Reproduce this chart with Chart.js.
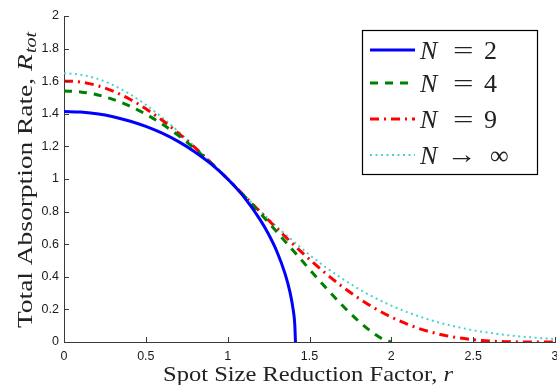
<!DOCTYPE html>
<html lang="en">
<head>
<meta charset="UTF-8">
<title>Total Absorption Rate vs Spot Size Reduction Factor</title>
<script src="https://cdn.jsdelivr.net/npm/chart.js"></script>
<style>
  body { margin: 0; background: #fff; }
  canvas { display: block; }
</style>
</head>
<body>
<canvas id="myChart" width="557" height="385"></canvas>
<script>
// values
const rN2 = [0, 0.1, 0.2, 0.3, 0.4, 0.5, 0.6, 0.7, 0.8, 0.9, 1.0, 1.1, 1.2, 1.25, 1.3, 1.35, 1.38, 1.4, 1.41, 1.4142];
const yN2 = [1.414, 1.411, 1.400, 1.382, 1.356, 1.323, 1.281, 1.229, 1.166, 1.091, 1.000, 0.889, 0.748, 0.661, 0.557, 0.421, 0.309, 0.200, 0.109, 0];

const rN4 = [0, 0.1, 0.2, 0.3, 0.4, 0.5, 0.6, 0.7, 0.8, 0.9, 1.0, 1.1, 1.2, 1.3, 1.4, 1.5, 1.6, 1.7, 1.8, 1.9, 1.95, 2.0];
const yN4 = [1.540, 1.534, 1.517, 1.488, 1.448, 1.398, 1.337, 1.266, 1.185, 1.096, 1.000, 0.897, 0.788, 0.676, 0.561, 0.446, 0.333, 0.225, 0.128, 0.047, 0.017, 0];

const rGrid = [0, 0.1, 0.2, 0.3, 0.4, 0.5, 0.6, 0.7, 0.8, 0.9, 1.0, 1.1, 1.2, 1.3, 1.4, 1.5, 1.6, 1.7, 1.8, 1.9, 2.0,
               2.1, 2.2, 2.3, 2.4, 2.5, 2.6, 2.7, 2.8, 2.9, 3.0];
const yN9 = [1.602, 1.595, 1.574, 1.539, 1.491, 1.431, 1.360, 1.280, 1.193, 1.098, 1.000, 0.899, 0.797, 0.697, 0.600, 0.507,
             0.420, 0.340, 0.269, 0.206, 0.153, 0.108, 0.073, 0.046, 0.027, 0.014, 0.006, 0.002, 0.0004, 0, 0];
const yInf = [1.649, 1.640, 1.616, 1.576, 1.522, 1.455, 1.377, 1.290, 1.197, 1.100, 1.000, 0.900, 0.803, 0.708, 0.619, 0.535,
              0.458, 0.389, 0.326, 0.271, 0.223, 0.182, 0.147, 0.117, 0.093, 0.072, 0.056, 0.043, 0.033, 0.025, 0.018];

const xTicks = [0, 0.5, 1, 1.5, 2, 2.5, 3];
const xTickLabels = ['0', '0.5', '1', '1.5', '2', '2.5', '3'];
const yTicks = [0, 0.2, 0.4, 0.6, 0.8, 1, 1.2, 1.4, 1.6, 1.8, 2];
const yTickLabels = ['0', '0.2', '0.4', '0.6', '0.8', '1', '1.2', '1.4', '1.6', '1.8', '2'];

const legendSym = ['=', '=', '=', '\u2192'];
const legendVal = ['2', '4', '9', '\u221E'];

const serif = '"Liberation Serif", "DejaVu Serif", serif';
const sans = '"Liberation Sans", Arial, sans-serif';
const axisColor = '#3a3a3a';

function pts(xs, ys) {
    return xs.map((x, i) => ({ x: x, y: ys[i] }));
}

// draws text pieces centred on x=0, stretched to a given total width
function drawPieces(ctx, pieces, size, width) {
    let total = 0;
    pieces.forEach(p => {
        ctx.font = (p.italic ? 'italic ' : '') + (p.size || size) + 'px ' + serif;
        p.w = ctx.measureText(p.text).width;
        total += p.w + (p.gap || 0);
    });
    const k = width / total;
    ctx.save();
    ctx.scale(k, 1);
    let x = -total / 2;
    pieces.forEach(p => {
        ctx.font = (p.italic ? 'italic ' : '') + (p.size || size) + 'px ' + serif;
        ctx.fillText(p.text, x + (p.gap || 0), p.dy || 0);
        x += p.w + (p.gap || 0);
    });
    ctx.restore();
}

// inward ticks, axis titles and the boxed legend
const extras = {
    id: 'extras',
    afterDraw(chart) {
        const ctx = chart.ctx;
        const xs = chart.scales.x, ys = chart.scales.y;
        const area = chart.chartArea;
        ctx.save();

        // tick marks pointing into the plot
        ctx.strokeStyle = axisColor;
        ctx.lineWidth = 1;
        ctx.beginPath();
        xTicks.forEach(v => {
            const px = Math.round(xs.getPixelForValue(v)) + 0.5;
            ctx.moveTo(px, area.bottom);
            ctx.lineTo(px, area.bottom - 5);
        });
        yTicks.forEach(v => {
            const py = Math.round(ys.getPixelForValue(v)) + 0.5;
            ctx.moveTo(area.left, py);
            ctx.lineTo(area.left + 5, py);
        });
        ctx.stroke();

        ctx.fillStyle = '#222';
        ctx.textBaseline = 'alphabetic';
        ctx.textAlign = 'left';

        // x title
        ctx.save();
        ctx.translate(308, 381);
        drawPieces(ctx, [
            { text: 'Spot Size Reduction Factor, ' },
            { text: 'r', italic: true }
        ], 22, 290);
        ctx.restore();

        // y title, rotated
        ctx.save();
        ctx.translate(32, 180);
        ctx.rotate(-Math.PI / 2);
        drawPieces(ctx, [
            { text: 'Total Absorption Rate, ' },
            { text: 'R', italic: true },
            { text: 'tot', italic: true, size: 16, gap: 1, dy: 4 }
        ], 22, 296);
        ctx.restore();

        // legend box
        const bx = 362, by = 30, bw = 175, bh = 144;
        ctx.fillStyle = '#fff';
        ctx.fillRect(bx, by, bw, bh);
        ctx.strokeStyle = '#000';
        ctx.lineWidth = 1.2;
        ctx.strokeRect(bx + 0.5, by + 0.5, bw, bh);

        const rows = [50, 83, 119, 155];
        chart.data.datasets.forEach((ds, i) => {
            const ry = rows[i];
            ctx.save();
            ctx.strokeStyle = ds.borderColor;
            ctx.lineWidth = ds.borderWidth;
            ctx.setLineDash(ds.borderDash || []);
            ctx.beginPath();
            ctx.moveTo(370, ry);
            ctx.lineTo(415, ry);
            ctx.stroke();
            ctx.restore();

            ctx.fillStyle = '#222';
            ctx.textBaseline = 'alphabetic';
            ctx.font = 'italic 26px ' + serif;
            ctx.fillText('N', 420, ry + 9);
            ctx.font = '26px ' + serif;
            ctx.save();
            ctx.translate(i === 3 ? 447 : 453, i === 3 ? ry + 8 : ry + 9);
            ctx.scale(i === 3 ? 1.15 : 1.4, 1);
            ctx.fillText(legendSym[i], 0, 0);
            ctx.restore();
            ctx.fillText(legendVal[i], i === 3 ? 490 : 484, ry + 9);
        });

        ctx.restore();
    }
};

const ctx = document.getElementById('myChart').getContext('2d');
const chart = new Chart(ctx, {
    type: 'line',
    data: {
        datasets: [
            {
                label: 'N = 2',
                data: pts(rN2, yN2),
                borderColor: '#0000ff',
                borderWidth: 3,
                pointRadius: 0,
                cubicInterpolationMode: 'monotone',
                fill: false
            },
            {
                label: 'N = 4',
                data: pts(rN4, yN4),
                borderColor: '#008000',
                borderWidth: 3,
                borderDash: [8, 7],
                pointRadius: 0,
                cubicInterpolationMode: 'monotone',
                fill: false
            },
            {
                label: 'N = 9',
                data: pts(rGrid, yN9),
                borderColor: '#ff0000',
                borderWidth: 3,
                borderDash: [9, 5, 2, 5],
                pointRadius: 0,
                cubicInterpolationMode: 'monotone',
                fill: false
            },
            {
                label: 'N \u2192 \u221E',
                data: pts(rGrid, yInf),
                borderColor: '#4cd2d2',
                borderWidth: 2,
                borderDash: [2, 3.5],
                pointRadius: 0,
                cubicInterpolationMode: 'monotone',
                fill: false
            }
        ]
    },
    options: {
        responsive: false,
        animation: false,
        layout: { padding: { top: 16, right: 2, left: 0, bottom: 0 } },
        plugins: {
            legend: { display: false },
            tooltip: { enabled: false }
        },
        scales: {
            x: {
                type: 'linear',
                min: 0,
                max: 3,
                afterBuildTicks: (scale) => { scale.ticks = xTicks.map(v => ({ value: v })); },
                afterFit: (scale) => { scale.height = 43; scale.paddingLeft = 0; scale.paddingRight = 0; },
                grid: { display: false, tickLength: 0 },
                border: { display: true, color: axisColor, width: 1 },
                ticks: {
                    padding: 7,
                    color: '#1a1a1a',
                    font: { family: sans, size: 12.5 },
                    maxRotation: 0,
                    autoSkip: false,
                    callback: (v) => xTickLabels[xTicks.indexOf(v)]
                }
            },
            y: {
                type: 'linear',
                min: 0,
                max: 2,
                afterBuildTicks: (scale) => { scale.ticks = yTicks.map(v => ({ value: v })); },
                afterFit: (scale) => { scale.width = 64; scale.paddingTop = 0; scale.paddingBottom = 0; },
                grid: { display: false, tickLength: 0 },
                border: { display: true, color: axisColor, width: 1 },
                ticks: {
                    padding: 5,
                    color: '#1a1a1a',
                    font: { family: sans, size: 12.5 },
                    autoSkip: false,
                    callback: (v) => yTickLabels[yTicks.indexOf(v)]
                }
            }
        }
    },
    plugins: [extras]
});
</script>
</body>
</html>
